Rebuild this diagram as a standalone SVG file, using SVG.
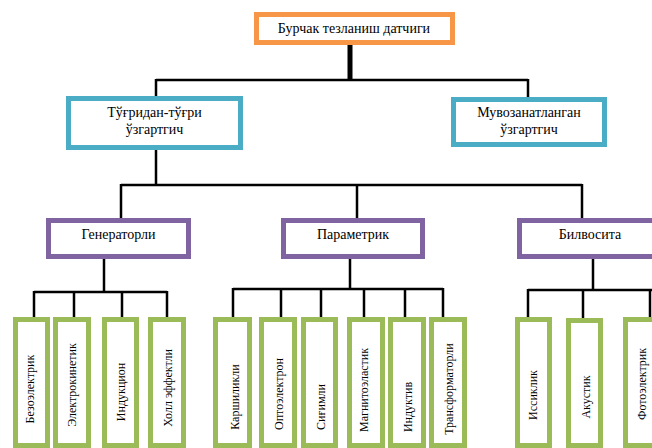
<svg xmlns="http://www.w3.org/2000/svg" width="652" height="448" viewBox="0 0 652 448">
<style>
text{font-family:"Liberation Serif","Times New Roman",serif;fill:#000}
.t{font-size:14px;text-anchor:middle}
.l{font-size:12px;text-anchor:middle}
rect{fill:#fff;stroke-width:5}
.o{stroke:#F79646}.b{stroke:#4BACC6}.p{stroke:#8064A2}.g{stroke:#9BBB59}
#connectors path{stroke:#000;stroke-width:2.5;fill:none}
</style>
<rect x="0" y="0" width="652" height="448" style="fill:#fff;stroke:none"/>
<g id="connectors">
<path d="M350,45V80" style="stroke-width:5"/>
<path d="M156,80H528M156,79V96M528,79V97"/>
<path d="M156,150V185M121,185H582M121,184V218M357,185V218M582,184V218"/>
<path d="M104,259V292M34,292H167M34,291V317M74,292V317M122,292V317M167,291V317"/>
<path d="M350,259V289M233,289H443M233,288V317M281,289V317M321,289V317M364,289V317M405,289V317M443,288V317"/>
<path d="M593,259V290M528,290H652M528,289V317M583,290V318M650,290V317"/>
</g>
<g id="root"><rect class="o" x="256.5" y="14.5" width="196" height="28"/><text class="t" x="354" y="33">Бурчак тезланиш датчиги</text></g>
<g id="direct"><rect class="b" x="68.5" y="98.5" width="172" height="49"/><text class="t" x="154.5" y="117">Тўғридан-тўғри</text><text class="t" x="154.5" y="134">ўзгартгич</text></g>
<g id="balanced"><rect class="b" x="453.5" y="99.5" width="151" height="45"/><text class="t" x="529" y="117">Мувозанатланган</text><text class="t" x="529" y="134">ўзгартгич</text></g>
<g id="generator"><rect class="p" x="48.5" y="220.5" width="140" height="36"/><text class="t" x="118.5" y="239">Генераторли</text></g>
<g id="parametric"><rect class="p" x="283.5" y="220.5" width="139" height="36"/><text class="t" x="353" y="239">Параметрик</text></g>
<g id="indirect"><rect class="p" x="519.5" y="220.5" width="141" height="36"/><text class="t" x="590" y="239">Билвосита</text></g>
<g id="l1"><rect class="g" x="15.5" y="319.5" width="32" height="126"/><text class="l" transform="translate(34,389) rotate(-90)">Безоэлектрик</text></g>
<g id="l2"><rect class="g" x="55.5" y="319.5" width="33" height="126"/><text class="l" transform="translate(76,385) rotate(-90)">Электрокинетик</text></g>
<g id="l3"><rect class="g" x="104.5" y="319.5" width="32" height="126"/><text class="l" transform="translate(125,392) rotate(-90)">Индукцион</text></g>
<g id="l4"><rect class="g" x="150.5" y="319.5" width="33" height="126"/><text class="l" transform="translate(172,388) rotate(-90)">Холл эффектли</text></g>
<g id="p1"><rect class="g" x="215.5" y="319.5" width="34" height="126"/><text class="l" transform="translate(239,397) rotate(-90)">Каршиликли</text></g>
<g id="p2"><rect class="g" x="261.5" y="319.5" width="33" height="126"/><text class="l" transform="translate(283,394) rotate(-90)">Оптоэлектрон</text></g>
<g id="p3"><rect class="g" x="303.5" y="319.5" width="32" height="126"/><text class="l" transform="translate(325,407) rotate(-90)">Сиғимли</text></g>
<g id="p4"><rect class="g" x="349.5" y="319.5" width="33" height="126"/><text class="l" transform="translate(368,390) rotate(-90)">Магнитоэластик</text></g>
<g id="p5"><rect class="g" x="390.5" y="319.5" width="33" height="126"/><text class="l" transform="translate(412,407) rotate(-90)">Индуктив</text></g>
<g id="p6"><rect class="g" x="431.5" y="319.5" width="33" height="126"/><text class="l" transform="translate(453,389) rotate(-90)">Трансформаторли</text></g>
<g id="b1"><rect class="g" x="517.5" y="319.5" width="32" height="126"/><text class="l" transform="translate(537,395) rotate(-90)">Иссиклик</text></g>
<g id="b2"><rect class="g" x="568.5" y="320.5" width="32" height="125"/><text class="l" transform="translate(590,397) rotate(-90)">Акустик</text></g>
<g id="b3"><rect class="g" x="625.5" y="319.5" width="33" height="126"/><text class="l" transform="translate(646,384) rotate(-90)">Фотоэлектрик</text></g>
</svg>
